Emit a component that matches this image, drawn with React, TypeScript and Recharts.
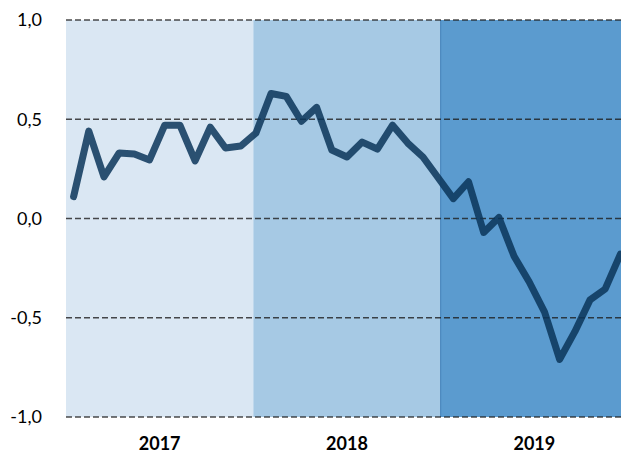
import { LineChart, Line, XAxis, YAxis, ReferenceArea, ReferenceLine } from "recharts";

const months = [
  "01.2017", "02.2017", "03.2017", "04.2017", "05.2017", "06.2017",
  "07.2017", "08.2017", "09.2017", "10.2017", "11.2017", "12.2017",
  "01.2018", "02.2018", "03.2018", "04.2018", "05.2018", "06.2018",
  "07.2018", "08.2018", "09.2018", "10.2018", "11.2018", "12.2018",
  "01.2019", "02.2019", "03.2019", "04.2019", "05.2019", "06.2019",
  "07.2019", "08.2019", "09.2019", "10.2019", "11.2019", "12.2019",
  "01.2020",
];

const values = [
  0.11, 0.44, 0.21, 0.33, 0.325, 0.295, 0.47, 0.47, 0.29, 0.46, 0.355, 0.365,
  0.43, 0.63, 0.615, 0.49, 0.56, 0.345, 0.31, 0.385, 0.35, 0.47, 0.38, 0.31,
  0.205, 0.1, 0.185, -0.07, 0.005, -0.19, -0.32, -0.47, -0.71, -0.57, -0.41, -0.355,
  -0.18,
];

const years = ["2017", "2018", "2019"];
const bandColors = ["#dae7f3", "#a6c9e4", "#5b9bcf"];
const yTicks = [-1, -0.5, 0, 0.5, 1];

const data = months.map((month, i) => ({ month, x: i + 0.5, value: values[i] }));
const bandSize = months.length / years.length;
const yearTicks = years.map((_, k) => (k + 0.5) * bandSize);

const font = "Lato, 'Open Sans', sans-serif";

export default function App() {
  return (
    <div
      style={{
        position: "absolute",
        left: 0,
        top: 0,
        width: 621,
        height: 455,
        overflow: "hidden",
        background: "#fff",
      }}
    >
      <LineChart
        width={628}
        height={455}
        data={data}
        margin={{ top: 20, right: 0, bottom: 8, left: 0 }}
      >
        <XAxis
          type="number"
          dataKey="x"
          domain={[0, months.length]}
          ticks={yearTicks}
          tickFormatter={(v: number) => years[Math.floor(v / bandSize)]}
          axisLine={false}
          tickLine={false}
          tickSize={0}
          tickMargin={20}
          height={30}
          tick={{ fill: "#000", fontSize: 18, fontWeight: 700, fontFamily: font }}
        />
        <YAxis
          domain={[-1, 1]}
          ticks={yTicks}
          tickFormatter={(v: number) => v.toFixed(1).replace(".", ",")}
          axisLine={false}
          tickLine={false}
          tickSize={0}
          tickMargin={24}
          width={66}
          tick={{ fill: "#000", fontSize: 18, fontFamily: font }}
        />
        {years.map((y, k) => (
          <ReferenceArea
            key={y}
            x1={k * bandSize}
            x2={(k + 1) * bandSize}
            y1={-1}
            y2={1}
            fill={bandColors[k]}
            fillOpacity={1}
            stroke="none"
          />
        ))}
        <ReferenceLine x={2 * bandSize} stroke="#3f7fb8" strokeWidth={1} />
        {yTicks.map((t) => (
          <ReferenceLine
            key={t}
            y={t}
            stroke="#1e1e1e"
            strokeOpacity={0.8}
            strokeWidth={1.4}
            strokeDasharray="6 3"
          />
        ))}
        <Line
          type="linear"
          dataKey="value"
          stroke="#0b3559"
          strokeOpacity={0.85}
          strokeWidth={7}
          strokeLinecap="round"
          strokeLinejoin="round"
          dot={false}
          activeDot={false}
          isAnimationActive={false}
        />
      </LineChart>
    </div>
  );
}
